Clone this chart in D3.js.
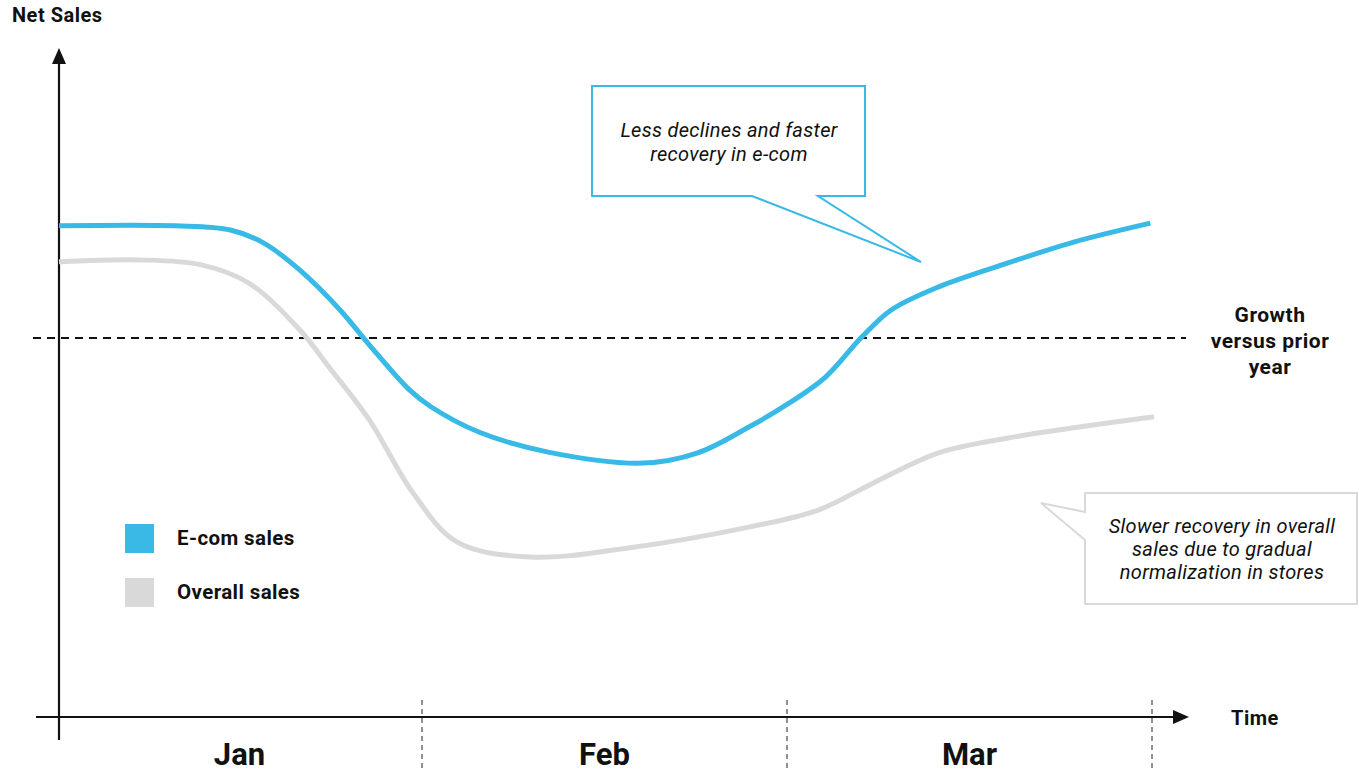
<!DOCTYPE html>
<html>
<head>
<meta charset="utf-8">
<script src="https://cdn.jsdelivr.net/npm/d3@7"></script>
<style>
  html, body { margin: 0; padding: 0; background: #fff; }
  svg { display: block; }
  text { font-family: Roboto, "Open Sans", sans-serif; fill: #111; }
</style>
</head>
<body>
<svg id="chart" width="1359" height="772"></svg>
<script>
// ---- data (month position 0..3, index where 100 = prior year) ----
const months = ["Jan", "Feb", "Mar"];
const ecomT   = [0.00, 0.32, 0.47, 0.56, 0.66, 0.77, 0.85, 0.96, 1.02, 1.15, 1.34, 1.60, 1.75, 1.89, 2.00, 2.10, 2.20, 2.28, 2.41, 2.60, 2.78, 2.99];
const ecomV   = [129.6, 129.6, 128.5, 125.1, 117.9, 107.4, 98.2, 86.3, 81.8, 75.2, 69.9, 67.0, 69.7, 76.5, 82.8, 89.7, 100.3, 107.4, 113.5, 119.8, 125.3, 130.3];
const overallT = [0.00, 0.22, 0.39, 0.52, 0.66, 0.74, 0.85, 0.97, 1.09, 1.29, 1.56, 1.89, 2.08, 2.23, 2.41, 2.60, 2.78, 3.00];
const overallV = [120.1, 120.6, 119.3, 114.5, 102.1, 92.3, 78.4, 59.1, 46.2, 42.2, 44.6, 50.1, 54.6, 61.7, 69.7, 73.6, 76.3, 79.2];
const priorYear = 100;
const seriesNames = ["E-com sales", "Overall sales"];
const seriesColors = ["#38b9e6", "#d9d9d9"];
const calloutEcom = ["Less declines and faster", "recovery in e-com"];
const calloutOverall = ["Slower recovery in overall", "sales due to gradual", "normalization in stores"];
const growthLabel = ["Growth", "versus prior", "year"];

// ---- scales ----
const svg = d3.select("#chart");
const x = d3.scaleLinear().domain([0, 3]).range([59, 1154]);
const y = d3.scaleLinear().domain([0, 100]).range([717, 338]);

// month dividers
const dividers = [1, 2, 3];
svg.selectAll("line.div").data(dividers).enter().append("line")
  .attr("x1", d => x(d) - 2).attr("x2", d => x(d) - 2)
  .attr("y1", 700).attr("y2", 772)
  .attr("stroke", "#222").attr("stroke-width", 1)
  .attr("stroke-dasharray", "5,4");

// month labels
svg.selectAll("text.month").data(months).enter().append("text")
  .attr("x", (d, i) => x(i + 0.5) - 2)
  .attr("y", 765)
  .attr("text-anchor", "middle")
  .attr("font-size", 31).attr("font-weight", 700)
  .text(d => d);

// axes
svg.append("line").attr("x1", x(0)).attr("x2", x(0)).attr("y1", 740).attr("y2", 60)
  .attr("stroke", "#111").attr("stroke-width", 2.2);
svg.append("path").attr("d", `M${x(0)},48 L${x(0) - 7},64 L${x(0) + 7},64 Z`).attr("fill", "#111");
svg.append("line").attr("x1", 36).attr("x2", 1174).attr("y1", y(0)).attr("y2", y(0))
  .attr("stroke", "#111").attr("stroke-width", 2.2);
svg.append("path").attr("d", `M1189,${y(0)} L1173,${y(0) - 7} L1173,${y(0) + 7} Z`).attr("fill", "#111");

svg.append("text").attr("x", 12).attr("y", 22).attr("font-size", 20).attr("font-weight", 700)
  .attr("letter-spacing", 0.5).text("Net Sales");
svg.append("text").attr("x", 1231).attr("y", 725).attr("font-size", 20).attr("font-weight", 700)
  .attr("letter-spacing", 0.5).text("Time");

// prior year dashed line
svg.append("line").attr("x1", 33).attr("x2", 1186).attr("y1", y(priorYear)).attr("y2", y(priorYear))
  .attr("stroke", "#111").attr("stroke-width", 2).attr("stroke-dasharray", "8,6");
svg.selectAll("text.growth").data(growthLabel).enter().append("text")
  .attr("x", 1270).attr("y", (d, i) => 322 + i * 26)
  .attr("text-anchor", "middle").attr("font-size", 21).attr("font-weight", 700)
  .attr("letter-spacing", 0.5)
  .text(d => d);

// lines
const line = d3.line().x(d => x(d[0])).y(d => y(d[1])).curve(d3.curveCatmullRom.alpha(0.5));
const overallData = overallT.map((t, i) => [t, overallV[i]]);
const ecomData = ecomT.map((t, i) => [t, ecomV[i]]);
svg.append("path").datum(overallData).attr("d", line)
  .attr("fill", "none").attr("stroke", seriesColors[1]).attr("stroke-width", 5);
svg.append("path").datum(ecomData).attr("d", line)
  .attr("fill", "none").attr("stroke", seriesColors[0]).attr("stroke-width", 5);

// legend
const legend = svg.selectAll("g.leg").data(seriesNames).enter().append("g")
  .attr("transform", (d, i) => `translate(125,${524 + i * 54})`);
legend.append("rect").attr("width", 29).attr("height", 29).attr("fill", (d, i) => seriesColors[i]);
legend.append("text").attr("x", 52).attr("y", 21).attr("font-size", 20.5).attr("font-weight", 700)
  .attr("letter-spacing", 0.4).text(d => d);

// callout e-com
svg.append("path")
  .attr("d", "M752,196 L592,196 L592,86 L865,86 L865,196 L818,196 L921,262 Z")
  .attr("fill", "#fff").attr("stroke", seriesColors[0]).attr("stroke-width", 2).attr("stroke-linejoin", "miter");
svg.selectAll("text.c1").data(calloutEcom).enter().append("text")
  .attr("x", 729).attr("y", (d, i) => 137 + i * 24)
  .attr("text-anchor", "middle").attr("font-size", 20).attr("font-style", "italic").attr("font-weight", 400)
  .attr("letter-spacing", 0.3)
  .text(d => d);

// callout overall
svg.append("path")
  .attr("d", "M1085,512 L1085,493 L1357,493 L1357,604 L1085,604 L1085,540 L1041,503 Z")
  .attr("fill", "#fff").attr("stroke", seriesColors[1]).attr("stroke-width", 2).attr("stroke-linejoin", "miter");
svg.selectAll("text.c2").data(calloutOverall).enter().append("text")
  .attr("x", 1222).attr("y", (d, i) => 533 + i * 23)
  .attr("text-anchor", "middle").attr("font-size", 20).attr("font-style", "italic").attr("font-weight", 400)
  .attr("letter-spacing", 0.3)
  .text(d => d);
</script>
</body>
</html>
